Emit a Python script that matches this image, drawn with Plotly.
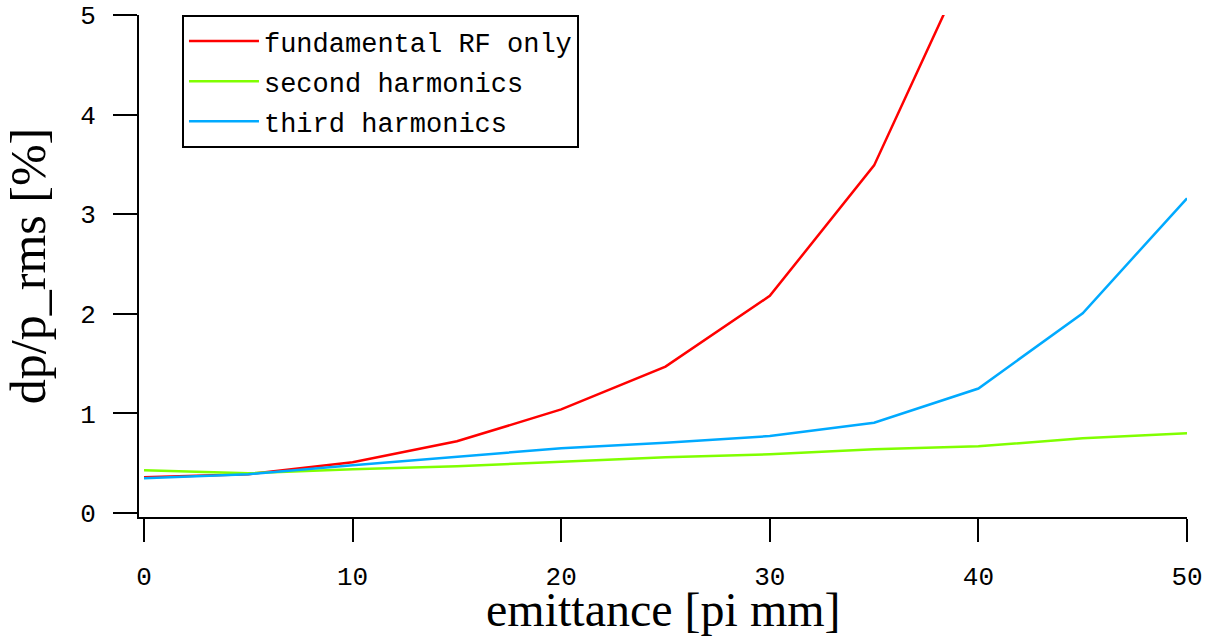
import plotly.graph_objects as go

emittance = [0, 5, 10, 15, 20, 25, 30, 35, 40, 45, 50]
fundamental_x = [0, 5, 10, 15, 20, 25, 30, 35, 40]
fundamental = [0.36, 0.39, 0.51, 0.72, 1.04, 1.47, 2.18, 3.49, 5.76]
second = [0.43, 0.40, 0.44, 0.47, 0.515, 0.56, 0.59, 0.64, 0.67, 0.75, 0.80]
third = [0.35, 0.39, 0.48, 0.565, 0.65, 0.706, 0.773, 0.907, 1.25, 2.005, 3.16]

names = ["fundamental RF only", "second harmonics", "third harmonics"]
colors = ["#ff0000", "#80ff00", "#00aaff"]
x_title = "emittance [pi mm]"
y_title = "dp/p_rms [%]"

fig = go.Figure()
fig.add_trace(go.Scatter(x=fundamental_x, y=fundamental, mode="lines", name=names[0],
                         line=dict(color=colors[0], width=2.5), legendgroup="a"))
fig.add_trace(go.Scatter(x=emittance, y=second, mode="lines", name=names[1],
                         line=dict(color=colors[1], width=2.5), legendgroup="b"))
fig.add_trace(go.Scatter(x=emittance, y=third, mode="lines", name=names[2],
                         line=dict(color=colors[2], width=2.5), legendgroup="c"))

tickfont = dict(family="Liberation Mono, monospace", size=26, color="black")
serif = "Liberation Serif, Times New Roman, serif"
fig.update_layout(
    width=1210, height=637,
    margin=dict(l=139, r=23, t=15, b=120),
    plot_bgcolor="white", paper_bgcolor="white",
    showlegend=True,
    legend=dict(x=0.041, y=1, xanchor="left", yanchor="top",
                bordercolor="black", borderwidth=2, bgcolor="white",
                font=dict(family="Courier New, Liberation Mono, monospace", size=27, color="black"),
                tracegroupgap=2, itemwidth=70),
    xaxis=dict(range=[-0.24, 50], tickvals=[0, 10, 20, 30, 40, 50], showgrid=False, zeroline=False,
               showline=True, linecolor="black", linewidth=2, automargin=False,
               ticks="outside", ticklen=23, tickwidth=2, tickcolor="black",
               tickfont=tickfont, ticklabelstandoff=12),
    yaxis=dict(range=[-0.04, 5], tickvals=[0, 1, 2, 3, 4, 5], showgrid=False, zeroline=False,
               showline=True, linecolor="black", linewidth=2, automargin=False,
               ticks="outside", ticklen=24, tickwidth=2, tickcolor="black",
               tickfont=tickfont, ticklabelstandoff=12,
               title=dict(text=y_title, font=dict(family=serif, size=50, color="black"), standoff=20)),
    annotations=[dict(text=x_title, xref="paper", yref="paper", x=0.5, y=-0.184,
                      xanchor="center", yanchor="middle", showarrow=False,
                      font=dict(family=serif, size=48, color="black"))],
)

fig.write_html("out.html")
